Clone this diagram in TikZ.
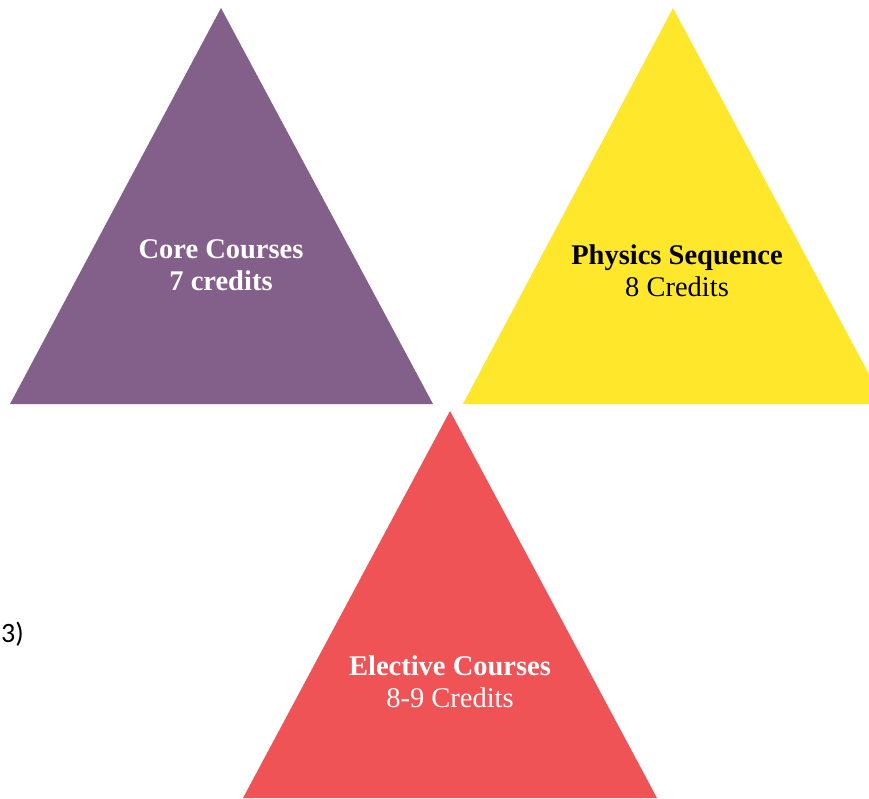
\documentclass[tikz,border=0pt]{standalone}
\usepackage{fontspec}
\setmainfont{Liberation Serif}
\newfontfamily\sidefont{Carlito}
\definecolor{corepurple}{RGB}{131,96,138}
\definecolor{physyellow}{RGB}{255,231,43}
\definecolor{electred}{RGB}{240,83,86}
\begin{document}
\begin{tikzpicture}[x=1pt,y=-1pt,
  lbl/.style={align=center,inner sep=0pt,font=\fontsize{28.5}{32}\selectfont}]
\useasboundingbox (0,0) rectangle (869,798);
\clip (0,0) rectangle (869,798);
\fill[corepurple] (221,8) -- (433,404) -- (10,404) -- cycle;
\fill[physyellow] (673,8) -- (885,404) -- (463,404) -- cycle;
\fill[electred] (450,411) -- (657,798) -- (243,798) -- cycle;
\node[lbl,text=white] (core) at (221,265) {\textbf{Core Courses}\\\textbf{7 credits}};
\node[lbl,text=black] (phys) at (677,271) {\textbf{Physics Sequence}\\8 Credits};
\node[lbl,text=white] (elect) at (450,682) {\textbf{Elective Courses}\\8-9 Credits};
\node[anchor=west,inner sep=0pt,font=\sidefont\fontsize{28}{32}\selectfont] (side) at (1,634) {3)};
\end{tikzpicture}
\end{document}
